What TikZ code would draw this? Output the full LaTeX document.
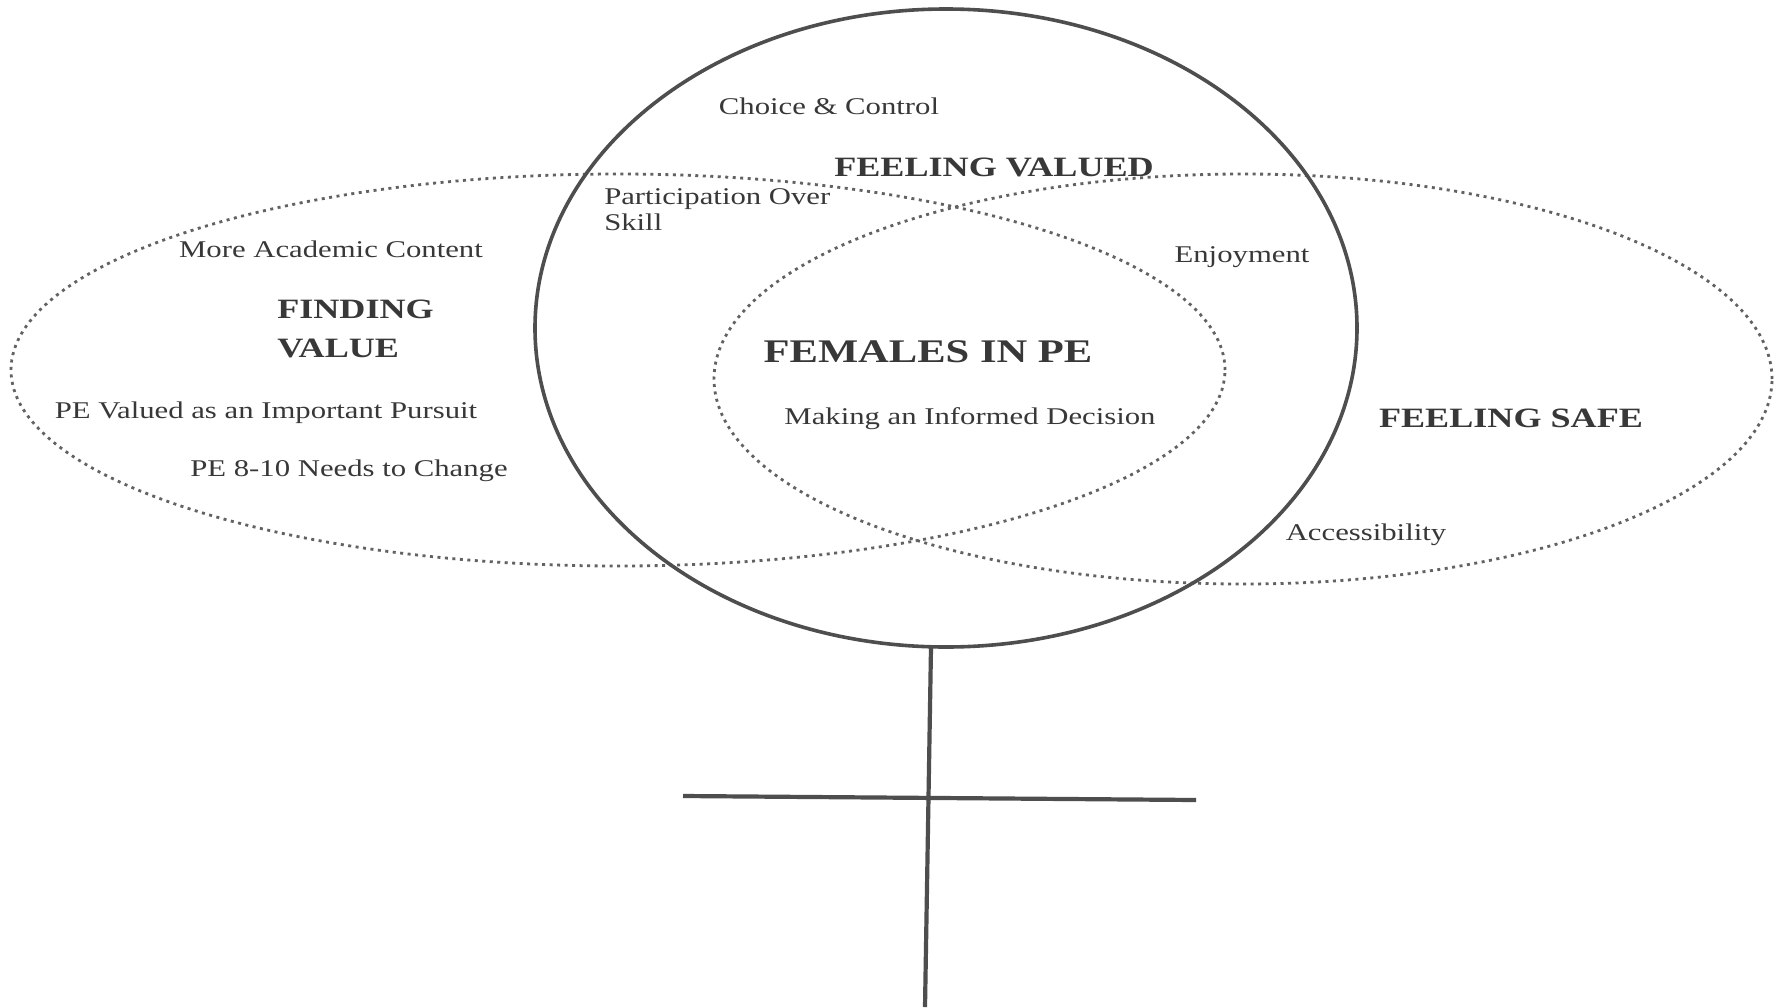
\documentclass[tikz,border=0pt]{standalone}
\usepackage{fontspec}
\setmainfont{Liberation Serif}
\definecolor{ink}{HTML}{383838}
\definecolor{ringc}{HTML}{4E4E4E}
\definecolor{dotc}{HTML}{626262}
\begin{document}
\begin{tikzpicture}[x=1pt,y=-1pt,
  lbl/.style={text=ink, inner sep=0pt, xscale=1.28, align=left, font=\fontsize{24}{26}\selectfont},
  head/.style={text=ink, inner sep=0pt, xscale=1.29, align=left, font=\fontsize{28}{39}\selectfont\bfseries},
  ring/.style={draw=ringc, line width=3.6pt},
  bar/.style={draw=ringc, line width=4.2pt},
  dotline/.style={draw=dotc, line width=2.8pt, dash pattern=on 3pt off 4.5pt}
]
\useasboundingbox[fill=white] (0,0) rectangle (1785,1007);

% dotted ellipses
\draw[dotline] (618,370) ellipse [x radius=607pt, y radius=196pt];
\draw[dotline] (1243,379) ellipse [x radius=529pt, y radius=205pt];

% the female symbol
\draw[ring] (946,328) ellipse [x radius=411pt, y radius=319pt];
\coordinate (stemtop) at (931,647);
\coordinate (stembot) at (925,1007);
\coordinate (barL) at (683,796);
\coordinate (barR) at (1196,800);
\draw[bar] (stemtop) -- (stembot);
\draw[bar] (barL) -- (barR);

% texts
\node[lbl] (choice) at (829,106) {Choice \& Control};
\node[head] (feelval) at (994,167) {FEELING VALUED};
\node[lbl, anchor=north west] (partic) at (604,188) {Participation Over\\Skill};
\node[lbl] (more) at (331,249) {More Academic Content};
\node[head, anchor=north west] (finding) at (277,300) {FINDING\\VALUE};
\node[lbl] (enjoy) at (1242,257) {Enjoyment};
\node[head, font=\fontsize{33}{39}\selectfont\bfseries] (females) at (928,352) {FEMALES IN PE};
\node[lbl] (making) at (970,419) {Making an Informed Decision};
\node[head] (safe) at (1511,418) {FEELING SAFE};
\node[lbl] (pevalued) at (266,413) {PE Valued as an Important Pursuit};
\node[lbl] (pe810) at (349,471) {PE 8-10 Needs to Change};
\node[lbl] (access) at (1366,535) {Accessibility};
\end{tikzpicture}
\end{document}
